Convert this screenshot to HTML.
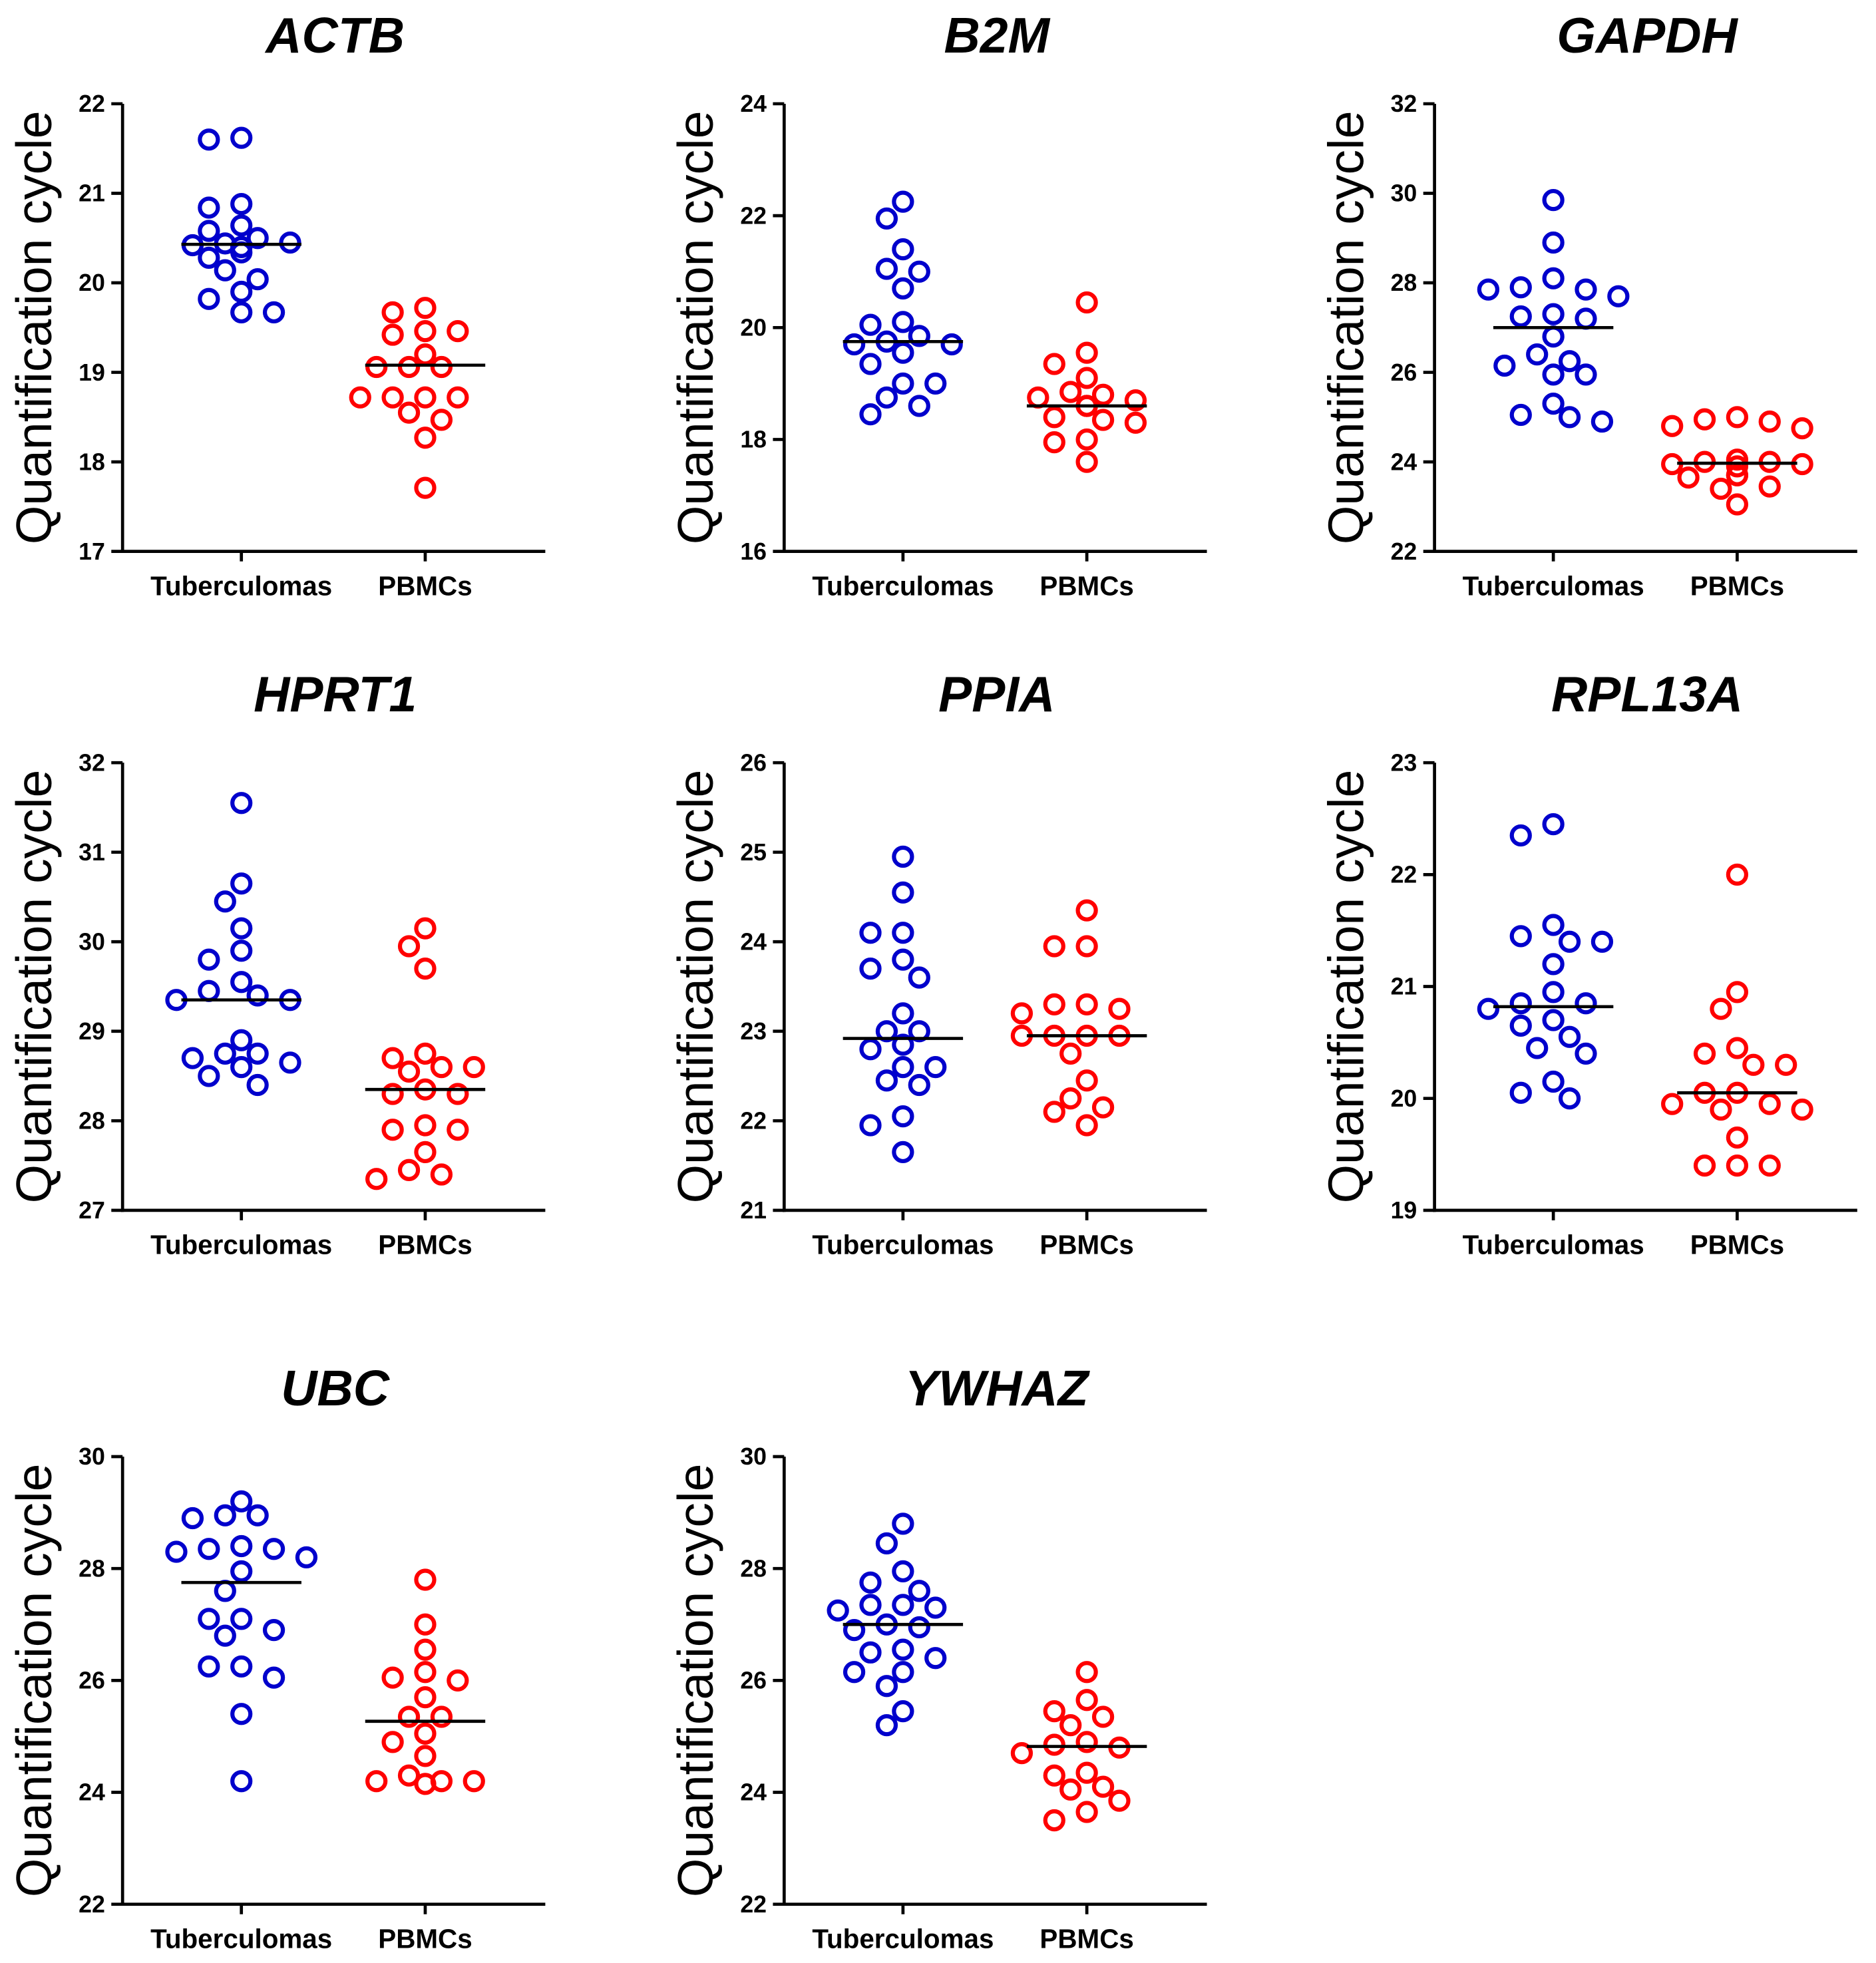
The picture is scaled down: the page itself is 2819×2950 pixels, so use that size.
<!DOCTYPE html>
<html><head><meta charset="utf-8">
<style>
html,body{margin:0;padding:0;background:#fff;}
svg{display:block;font-family:"Liberation Sans",Arial,sans-serif;}
</style></head>
<body>
<svg id="fig" width="2819" height="2950" viewBox="0 0 1500 1570" preserveAspectRatio="none" xmlns="http://www.w3.org/2000/svg"></svg>
<script>
const genes = ["ACTB","B2M","GAPDH","HPRT1","PPIA","RPL13A","UBC","YWHAZ"];
const categories = ["Tuberculomas","PBMCs"];
const yMins = [17,16,22,27,21,19,22,22];
const yMaxs = [22,24,32,32,26,23,30,30];
const yStepsTick = [1,2,2,1,1,1,2,2];
const tuberculomas = [
 [21.6,21.62,20.88,20.84,20.64,20.58,20.34,20.42,20.44,20.45,20.5,20.4,20.4,20.28,20.14,20.04,19.9,19.82,19.67,19.67],
 [22.25,21.95,21.4,21.0,21.05,20.7,20.05,20.1,19.85,19.75,19.7,19.7,19.55,19.35,19.0,19.0,18.75,18.6,18.45],
 [29.85,28.9,28.1,27.9,27.85,27.85,27.7,27.3,27.25,27.2,26.8,26.4,26.25,26.15,25.95,25.95,25.3,25.05,25.0,24.9],
 [31.55,30.65,30.45,30.15,29.9,29.8,29.55,29.45,29.4,29.35,29.35,28.9,28.75,28.75,28.7,28.65,28.6,28.5,28.4],
 [24.95,24.55,24.1,24.1,23.8,23.7,23.6,23.2,23.0,23.0,22.85,22.8,22.6,22.6,22.45,22.4,22.05,21.95,21.65],
 [22.45,22.35,21.55,21.45,21.4,21.4,21.2,20.95,20.85,20.85,20.8,20.7,20.65,20.55,20.45,20.4,20.15,20.05,20.0],
 [29.2,28.95,28.95,28.9,28.4,28.35,28.35,28.2,28.3,27.95,27.6,27.1,27.1,26.9,26.8,26.25,26.25,26.05,25.4,24.2],
 [28.8,28.45,27.95,27.75,27.6,27.35,27.35,27.3,27.25,27.0,26.95,26.9,26.55,26.5,26.4,26.15,26.15,25.9,25.45,25.2]
];
const pbmcs = [
 [19.72,19.67,19.46,19.42,19.46,19.2,19.06,19.06,19.06,18.72,18.55,18.72,18.72,18.72,18.47,18.27,17.71],
 [20.45,19.55,19.35,19.1,18.85,18.75,18.8,18.6,18.6,18.6,18.7,18.4,18.35,18.3,18.0,17.95,17.6],
 [25.0,24.95,24.9,24.8,24.75,24.05,24.0,24.0,23.95,23.95,23.9,23.7,23.7,23.65,23.45,23.4,23.05],
 [30.15,29.95,29.7,28.75,28.7,28.6,28.6,28.55,28.35,28.3,28.3,27.95,27.9,27.9,27.65,27.45,27.4,27.35],
 [24.35,23.95,23.95,23.3,23.3,23.25,23.2,22.95,22.95,22.95,22.95,22.75,22.45,22.25,22.15,22.1,21.95],
 [22.0,20.95,20.8,20.45,20.4,20.3,20.3,20.05,20.05,19.95,19.95,19.9,19.9,19.65,19.4,19.4,19.4],
 [27.8,27.0,26.55,26.15,26.05,26.0,25.7,25.35,25.35,25.05,24.9,24.65,24.3,24.2,24.2,24.2,24.15],
 [26.15,25.65,25.45,25.35,25.2,24.9,24.85,24.8,24.7,24.35,24.3,24.1,24.05,23.85,23.65,23.5]
];
const tubLines = [20.43,19.75,27.0,29.35,22.92,20.82,27.75,27.0];
const pbmcLines = [19.08,18.6,23.97,28.35,22.95,20.05,25.27,24.82];

const NS="http://www.w3.org/2000/svg";
const svg=document.getElementById('fig');
function mk(tag,attrs,parent){const e=document.createElementNS(NS,tag);for(const k in attrs)e.setAttribute(k,attrs[k]);(parent||svg).appendChild(e);return e;}

const colX=[98,627,1147], rowTop=[83,610,1165], H=358, W=338;
const catOff=[95,242];
const colors=["#0000cc","#ff0000"];

genes.forEach((g,i)=>{
  const ax=colX[i%3], top=rowTop[Math.floor(i/3)], bot=top+H;
  const grp=mk('g',{});
  
  
  const y=v=>bot-(v-yMins[i])/(yMaxs[i]-yMins[i])*H;
  const t=mk('text',{x:ax+170,y:top-41,'text-anchor':'middle','font-size':40,'font-weight':'bold','font-style':'italic',fill:'#000'},grp);
  t.textContent=g;
  
  
  const yl=mk('text',{x:0,y:0,transform:`translate(${ax-57},${top+H/2}) rotate(-90)`,'text-anchor':'middle','font-size':40,fill:'#000'},grp);
  yl.textContent='Quantification cycle';
  
  
  const yaxis=mk('line',{x1:ax,y1:top,x2:ax,y2:bot+1.25,stroke:'#000','stroke-width':2.5},grp);
  
  
  const xaxis=mk('line',{x1:ax-1.25,y1:bot,x2:ax+W,y2:bot,stroke:'#000','stroke-width':2.5},grp);
  
  
  for(let v=yMins[i];v<=yMaxs[i]+1e-9;v+=yStepsTick[i]){
    const tk=mk('line',{x1:ax-9,y1:y(v),x2:ax,y2:y(v),stroke:'#000','stroke-width':2.5},grp);
    
    
    const tl=mk('text',{x:ax-14,y:y(v)+6.5,'text-anchor':'end','font-size':19,'font-weight':'bold',fill:'#000'},grp);
    tl.textContent=v;
    
    
  }
  [tuberculomas[i],pbmcs[i]].forEach((vals,c)=>{
    const cx=ax+catOff[c];
    const tk=mk('line',{x1:cx,y1:bot,x2:cx,y2:bot+8,stroke:'#000','stroke-width':2.5},grp);
    
    
    const cl=mk('text',{x:cx,y:bot+35,'text-anchor':'middle','font-size':21.5,'font-weight':'bold',fill:'#000'},grp);
    cl.textContent=categories[c];
    
    
    const placed=[];
    const order=vals.map((v,k)=>k).sort((a,b)=>vals[b]-vals[a]);
    order.forEach(k=>{
      const py=y(vals[k]);
      const cands=[0,-1,1,-2,2,-3,3,-4,4];
      let px=cx;
      for(const s of cands){
        const tx=cx+s*13;
        if(placed.every(p=>Math.hypot(p[0]-tx,p[1]-py)>=16)){px=tx;break;}
      }
      placed.push([px,py]);
      const ci=mk('circle',{cx:px,cy:py,r:7.2,fill:'none',stroke:colors[c],'stroke-width':3.3},grp);
      
      
    });
    const lv=c===0?tubLines[i]:pbmcLines[i];
    const ml=mk('line',{x1:cx-48,y1:y(lv),x2:cx+48,y2:y(lv),stroke:'#000','stroke-width':2.5},grp);
    
    
  });
});
</script>
</body></html>
